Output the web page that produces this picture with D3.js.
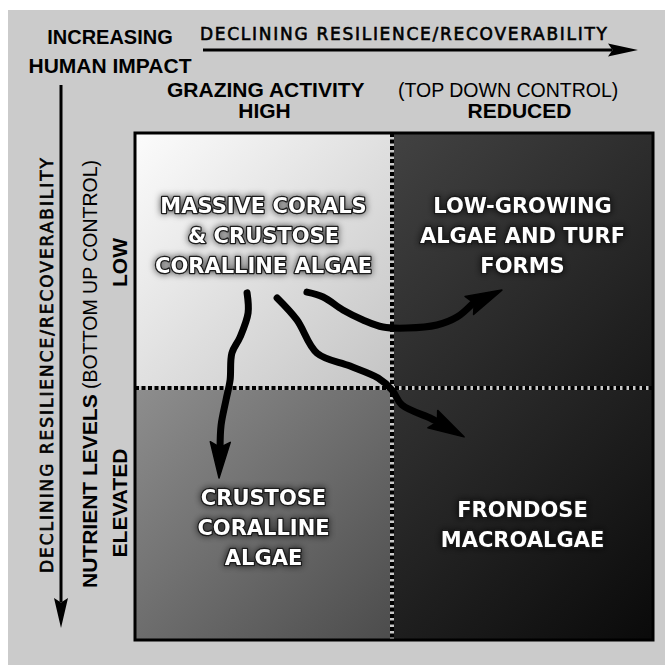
<!DOCTYPE html>
<html lang="en">
<head>
<meta charset="utf-8">
<script src="https://cdn.jsdelivr.net/npm/d3@7"></script>
<style>
  body { margin: 0; background: #fff; }
  svg { display: block; }
</style>
</head>
<body>
<div id="chart"></div>
<script>
// grid categories
var grazingLevels = ["HIGH", "REDUCED"];
var nutrientLevels = ["LOW", "ELEVATED"];

// community in each cell (col = grazing, row = nutrients)
var quadrantCol = [0, 1, 0, 1];
var quadrantRow = [0, 0, 1, 1];
var quadrantNames = [
  ["MASSIVE CORALS", "& CRUSTOSE", "CORALLINE ALGAE"],
  ["LOW-GROWING", "ALGAE AND TURF", "FORMS"],
  ["CRUSTOSE", "CORALLINE", "ALGAE"],
  ["FRONDOSE", "MACROALGAE"]
];

// phase shift paths in grid units [col, row]; last point is the tip
var shiftToCrustose = [[0.436,0.627],[0.440,0.706],[0.409,0.800],[0.377,0.863],[0.370,0.969],
  [0.354,1.048],[0.335,1.147],[0.331,1.238],[0.327,1.357]];
var shiftToMacroalgae = [[0.553,0.647],[0.630,0.733],[0.708,0.863],[0.837,0.914],[0.946,0.961],
  [1.000,1.008],[1.038,1.067],[1.146,1.119],[1.169,1.131],[1.276,1.194]];
var shiftToTurf = [[0.669,0.624],[0.732,0.643],[0.809,0.694],[0.887,0.733],[0.965,0.761],
  [1.057,0.765],[1.172,0.753],[1.249,0.722],[1.307,0.671],[1.421,0.616]];

var width = 665, height = 665;
var comic = "'DejaVu Sans', sans-serif";
var helv = "'Liberation Sans', Arial, sans-serif";

// cell shading, top-left to bottom-right
var shades = [["#fcfcfc", "#c4c4c4"], ["#424242", "#191919"], ["#8e8e8e", "#4c4c4c"], ["#323232", "#0a0a0a"]];

var x = d3.scaleLinear().domain([0, 1, 2]).range([135, 392, 653]);
var y = d3.scaleLinear().domain([0, 1, 2]).range([133, 388, 640]);

var svg = d3.select("#chart").append("svg")
  .attr("width", width)
  .attr("height", height);

var defs = svg.append("defs");

shades.forEach(function(s, i) {
  var g = defs.append("linearGradient")
    .attr("id", "shade" + i)
    .attr("x1", 0).attr("y1", 0).attr("x2", 1).attr("y2", 1);
  g.append("stop").attr("offset", "0%").attr("stop-color", s[0]);
  g.append("stop").attr("offset", "100%").attr("stop-color", s[1]);
});

var glow = defs.append("filter").attr("id", "glow")
  .attr("x", "-20%").attr("y", "-40%").attr("width", "140%").attr("height", "180%");
glow.append("feGaussianBlur").attr("in", "SourceAlpha").attr("stdDeviation", 3.5).attr("result", "b");
glow.append("feFlood").attr("flood-color", "#000").attr("flood-opacity", 0.7);
glow.append("feComposite").attr("in2", "b").attr("operator", "in").attr("result", "s");
var merge = glow.append("feMerge");
merge.append("feMergeNode").attr("in", "s");
merge.append("feMergeNode").attr("in", "SourceGraphic");

// grey card
svg.append("rect")
  .attr("x", 8).attr("y", 10)
  .attr("width", width - 8).attr("height", height - 10)
  .style("fill", "#cbcbcb");

// quadrants
svg.selectAll("rect.cell")
  .data(quadrantNames)
  .enter()
  .append("rect")
  .attr("class", "cell")
  .attr("x", function(d, i) { return x(quadrantCol[i]); })
  .attr("y", function(d, i) { return y(quadrantRow[i]); })
  .attr("width", function(d, i) { return x(quadrantCol[i] + 1) - x(quadrantCol[i]); })
  .attr("height", function(d, i) { return y(quadrantRow[i] + 1) - y(quadrantRow[i]); })
  .style("fill", function(d, i) { return "url(#shade" + i + ")"; });

// dotted dividers
[[x(1), y(0), x(1), y(2)], [x(0), y(1), x(2), y(1)]].forEach(function(l) {
  svg.append("line")
    .attr("x1", l[0]).attr("y1", l[1]).attr("x2", l[2]).attr("y2", l[3])
    .style("stroke", "#c8c8c8").style("stroke-width", 4);
  svg.append("line")
    .attr("x1", l[0]).attr("y1", l[1]).attr("x2", l[2]).attr("y2", l[3])
    .style("stroke", "#000").style("stroke-width", 4)
    .style("stroke-dasharray", "4 2.5");
});

// frame
svg.append("rect")
  .attr("x", x(0)).attr("y", y(0))
  .attr("width", x(2) - x(0)).attr("height", y(2) - y(0))
  .style("fill", "none").style("stroke", "#000").style("stroke-width", 3);

// arrow head helper: dart from p toward tip
function head(p, tip, len, half) {
  var dx = tip[0] - p[0], dy = tip[1] - p[1];
  var d = Math.sqrt(dx * dx + dy * dy);
  var ux = dx / d, uy = dy / d;
  var bx = tip[0] - ux * len, by = tip[1] - uy * len;
  return [
    [tip[0], tip[1]],
    [bx - uy * half, by + ux * half],
    [bx + ux * len * 0.15, by + uy * len * 0.15],
    [bx + uy * half, by - ux * half]
  ];
}

// shift arrows
var line = d3.line()
  .x(function(d) { return x(d[0]); })
  .y(function(d) { return y(d[1]); })
  .curve(d3.curveCatmullRom);

[shiftToCrustose, shiftToMacroalgae, shiftToTurf].forEach(function(pts) {
  var shaft = pts.slice(0, pts.length - 1);
  svg.append("path")
    .attr("d", line(shaft))
    .style("fill", "none").style("stroke", "#000")
    .style("stroke-width", 7).style("stroke-linecap", "round");
  var p = shaft[shaft.length - 1], t = pts[pts.length - 1];
  svg.append("polygon")
    .attr("points", head([x(p[0]), y(p[1])], [x(t[0]), y(t[1])], 36, 10).join(" "))
    .style("fill", "#000").style("stroke", "#000").style("stroke-width", 1.5)
    .style("stroke-linejoin", "round");
});

// quadrant labels
var labelRow = [0.40, 0.40, 1.55, 1.54];
var lineGap = 30;
quadrantNames.forEach(function(lines, i) {
  var cx = x(quadrantCol[i] + 0.5);
  var cy = y(labelRow[i]);
  var top = cy - ((lines.length - 1) * lineGap) / 2 + 8;
  var t = svg.append("text")
    .attr("text-anchor", "middle")
    .attr("filter", "url(#glow)")
    .style("font-family", comic).style("font-size", "21px").style("font-weight", "bold")
    .style("fill", "#fff").style("stroke", "#1a1a1a").style("stroke-width", 2.5)
    .style("paint-order", "stroke").style("stroke-linejoin", "round");
  lines.forEach(function(s, k) {
    t.append("tspan").attr("x", cx).attr("y", top + k * lineGap).text(s);
  });
});

// column headers
svg.selectAll("text.col")
  .data(grazingLevels)
  .enter()
  .append("text")
  .attr("class", "col")
  .attr("x", function(d, i) { return x(i + 0.5) + (i ? -3 : 1); })
  .attr("y", 118)
  .attr("text-anchor", "middle")
  .style("font-family", helv).style("font-weight", "bold").style("font-size", "21px")
  .text(function(d) { return d; });

// row headers
var rowNudge = [2, -11];
svg.selectAll("text.row")
  .data(nutrientLevels)
  .enter()
  .append("text")
  .attr("class", "row")
  .attr("transform", function(d, i) { return "translate(127," + (y(i + 0.5) + rowNudge[i]) + ") rotate(-90)"; })
  .attr("text-anchor", "middle")
  .style("font-family", helv).style("font-weight", "bold").style("font-size", "21px")
  .text(function(d) { return d; });

// axis titles
var gz = svg.append("text").attr("x", 167).attr("y", 97)
  .style("font-family", helv).style("font-size", "21px");
gz.append("tspan").style("font-weight", "bold").text("GRAZING ACTIVITY");
gz.append("tspan").attr("x", 398).style("font-size", "19.5px").text("(TOP DOWN CONTROL)");

var nt = svg.append("text")
  .attr("transform", "translate(97,588) rotate(-90)")
  .style("font-family", helv).style("font-size", "21px");
nt.append("tspan").style("font-weight", "bold").text("NUTRIENT LEVELS");
nt.append("tspan").style("font-size", "19.5px").text(" (BOTTOM UP CONTROL)");

svg.append("text").attr("x", 110).attr("y", 44)
  .attr("text-anchor", "middle")
  .style("font-family", helv).style("font-weight", "bold").style("font-size", "20px")
  .text("INCREASING");
svg.append("text").attr("x", 110).attr("y", 73)
  .attr("text-anchor", "middle")
  .style("font-family", helv).style("font-weight", "bold").style("font-size", "21px")
  .text("HUMAN IMPACT");

// resilience arrows
svg.append("text").attr("x", 200).attr("y", 40)
  .attr("textLength", 407)
  .style("font-family", comic).style("font-size", "17px")
  .style("stroke", "#000").style("stroke-width", 0.6)
  .text("DECLINING RESILIENCE/RECOVERABILITY");
svg.append("line").attr("x1", 203).attr("y1", 50).attr("x2", 612).attr("y2", 50)
  .style("stroke", "#000").style("stroke-width", 3);
svg.append("polygon")
  .attr("points", head([600, 50], [638, 50], 30, 6.5).join(" "))
  .style("fill", "#000");

svg.append("text")
  .attr("transform", "translate(53,573) rotate(-90)")
  .attr("textLength", 415)
  .style("font-family", comic).style("font-size", "17px")
  .style("stroke", "#000").style("stroke-width", 0.6)
  .text("DECLINING  RESILIENCE/RECOVERABILITY");
svg.append("line").attr("x1", 61).attr("y1", 85).attr("x2", 61).attr("y2", 602)
  .style("stroke", "#000").style("stroke-width", 3);
svg.append("polygon")
  .attr("points", head([61, 590], [61, 628], 30, 7).join(" "))
  .style("fill", "#000");
</script>
</body>
</html>
